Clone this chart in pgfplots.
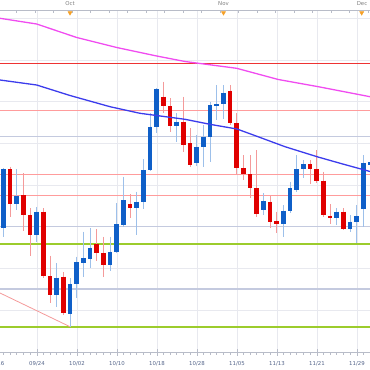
\documentclass[border=0pt]{standalone}
\usepackage{pgfplots}
\pgfplotsset{compat=1.18}
\usepackage{fontspec}
\setmainfont{DejaVu Sans}
\definecolor{cblue}{HTML}{0F5FC8}
\definecolor{cbluew}{HTML}{9DC0EA}
\definecolor{cred}{HTML}{E00000}
\definecolor{credw}{HTML}{F49A9A}
\definecolor{maA}{HTML}{F04CF0}
\definecolor{maB}{HTML}{3C3CEC}
\definecolor{lred}{HTML}{FF9C9C}
\definecolor{gblue}{HTML}{C4CADF}
\definecolor{lgreen}{HTML}{9CCC2C}
\definecolor{gridc}{HTML}{E8E9EF}
\definecolor{orng}{HTML}{F5A028}
\definecolor{labc}{HTML}{55658A}
\definecolor{axc}{HTML}{B8BCC8}
\definecolor{sred}{HTML}{EE3333}
\begin{document}
\begin{tikzpicture}
\begin{axis}[name=ax, scale only axis, width=370bp, height=370bp,
  xmin=0, xmax=370, ymin=0, ymax=370, y dir=reverse,
  axis lines=none, clip=true, unbounded coords=jump]
\coordinate (A) at (rel axis cs:0,0);
\coordinate (B) at (rel axis cs:1,1);
% faint gridlines
\addplot[gridc, line width=0.8bp] coordinates {
(0,18.3)(370,18.3)(nan,nan)(0,60)(370,60)(nan,nan)(0,101.7)(370,101.7)(nan,nan)
(0,143.3)(370,143.3)(nan,nan)(0,185)(370,185)(nan,nan)(0,268.3)(370,268.3)(nan,nan)
(0,310)(370,310)};
\addplot[gridc, line width=0.8bp] coordinates {
(37,10)(37,352)(nan,nan)(77,10)(77,352)(nan,nan)(117,10)(117,352)(nan,nan)
(157,10)(157,352)(nan,nan)(197,10)(197,352)(nan,nan)(237,10)(237,352)(nan,nan)
(277,10)(277,352)(nan,nan)(317,10)(317,352)(nan,nan)(357,10)(357,352)};
% support / resistance lines
\addplot[gblue, line width=1.2bp] coordinates {(0,136.7)(370,136.7)(nan,nan)(0,226.7)(370,226.7)(nan,nan)(0,289)(370,289)};
\addplot[lred, line width=1bp] coordinates {(0,110)(370,110)(nan,nan)(0,174)(370,174)(nan,nan)(0,195.7)(370,195.7)};
\addplot[sred, line width=1.6bp] coordinates {(0,63.6)(370,63.6)(nan,nan)(0,63.6)(370,63.6)};
\addplot[lgreen, line width=1.7bp] coordinates {(0,244.3)(370,244.3)(nan,nan)(0,326.7)(370,326.7)};
\addplot[credw, line width=0.8bp] coordinates {(0,293)(70,326.7)};
% axes
\addplot[axc, line width=0.8bp] coordinates {(0,10)(370,10)(nan,nan)(0,352)(370,352)};
\addplot[only marks, mark=|, mark size=1.6bp, mark options={axc, line width=0.7bp}] coordinates {
(16.7,11.6)(35.2,11.6)(53.7,11.6)(72.2,11.6)(90.7,11.6)(109.2,11.6)(127.7,11.6)(146.2,11.6)
(164.7,11.6)(183.2,11.6)(201.7,11.6)(220.2,11.6)(238.7,11.6)(257.2,11.6)(275.7,11.6)
(294.2,11.6)(312.7,11.6)(331.2,11.6)(349.7,11.6)(368.2,11.6)};
\addplot[only marks, mark=|, mark size=1.3bp, mark options={axc, line width=0.7bp}] coordinates {
(3.3,353.5)(10,353.5)(16.7,353.5)(23.3,353.5)(30,353.5)(43.3,353.5)(50,353.5)(56.7,353.5)
(63.3,353.5)(70,353.5)(83.3,353.5)(90,353.5)(96.7,353.5)(103.3,353.5)(110,353.5)
(123.3,353.5)(130,353.5)(136.7,353.5)(143.3,353.5)(150,353.5)(163.3,353.5)(170,353.5)
(176.7,353.5)(183.3,353.5)(190,353.5)(203.3,353.5)(210,353.5)(216.7,353.5)(223.3,353.5)
(230,353.5)(243.3,353.5)(250,353.5)(256.7,353.5)(263.3,353.5)(270,353.5)(283.3,353.5)
(290,353.5)(296.7,353.5)(303.3,353.5)(310,353.5)(323.3,353.5)(330,353.5)(336.7,353.5)
(343.3,353.5)(350,353.5)(363.3,353.5)(370,353.5)};
\addplot[only marks, mark=|, mark size=3.2bp, mark options={axc, line width=0.8bp}] coordinates {
(37,352.5)(77,352.5)(117,352.5)(157,352.5)(197,352.5)(237,352.5)(277,352.5)(317,352.5)(357,352.5)};
\addplot[only marks, mark=triangle*, mark size=2.4bp, mark options={rotate=180, fill=orng, draw=orng}] coordinates {(70,12.8)(223.5,12.8)(361.7,12.8)};
% wicks
\addplot[cbluew, line width=1bp] coordinates {
(3.33,168)(3.33,236.7)(nan,nan)(16.67,169.3)(16.67,210)(nan,nan)(36.67,207)(36.67,241.7)(nan,nan)
(56.67,263.3)(56.67,306.7)(nan,nan)(70,278.3)(70,326.7)(nan,nan)(76.67,256.7)(76.67,298)(nan,nan)
(83.33,231.7)(83.33,276.7)(nan,nan)(90,228.3)(90,268.3)(nan,nan)(110,236.7)(110,271)(nan,nan)
(116.67,203)(116.67,253.3)(nan,nan)(123.33,176.7)(123.33,226.7)(nan,nan)(136.67,191.7)(136.67,235)(nan,nan)
(143.33,159.3)(143.33,209)(nan,nan)(150,113.3)(150,170.7)(nan,nan)(156.67,88.3)(156.67,133.3)(nan,nan)
(176.67,113.3)(176.67,141.7)(nan,nan)(196.67,135)(196.67,166)(nan,nan)(203.33,125)(203.33,166.7)(nan,nan)
(210,101.7)(210,161.7)(nan,nan)(216.67,85)(216.67,120)(nan,nan)(223.33,85)(223.33,119.3)(nan,nan)
(263.33,193.3)(263.33,215)(nan,nan)(283.33,205)(283.33,236.7)(nan,nan)(290,181.7)(290,213.3)(nan,nan)
(296.67,155)(296.67,191.7)(nan,nan)(303.33,160)(303.33,178.3)(nan,nan)(336.67,208.3)(336.67,225)(nan,nan)
(350,215)(350,231.7)(nan,nan)(356.67,205)(356.67,243.3)(nan,nan)(363.33,155)(363.33,226.7)(nan,nan)
(370,158)(370,168)};
\addplot[credw, line width=1bp] coordinates {
(10,166.7)(10,216.7)(nan,nan)(23.33,173.3)(23.33,230.7)(nan,nan)(30,208.3)(30,255.7)(nan,nan)
(43.33,208.3)(43.33,278.3)(nan,nan)(50,255.7)(50,303.3)(nan,nan)(63.33,272.3)(63.33,315)(nan,nan)
(96.67,229)(96.67,261)(nan,nan)(103.33,236.7)(103.33,276.7)(nan,nan)(130,194.3)(130,218.3)(nan,nan)
(163.33,81.7)(163.33,113.3)(nan,nan)(170,98.3)(170,131.7)(nan,nan)(183.33,96.7)(183.33,151.7)(nan,nan)
(190,128.3)(190,167.3)(nan,nan)(230,85)(230,125)(nan,nan)(236.67,113.3)(236.67,174)(nan,nan)
(243.33,155)(243.33,180)(nan,nan)(250,155)(250,198)(nan,nan)(256.67,150)(256.67,217)(nan,nan)
(270,196)(270,227.7)(nan,nan)(276.67,211.7)(276.67,232.7)(nan,nan)(310,160)(310,184)(nan,nan)
(316.67,150)(316.67,183.3)(nan,nan)(323.33,171.7)(323.33,217.3)(nan,nan)(330,204)(330,224)(nan,nan)
(343.33,208.3)(343.33,230)};
% bodies
\addplot[cblue, line width=4.8bp] coordinates {
(3.33,169.3)(3.33,228.3)(nan,nan)(16.67,195.7)(16.67,204.3)(nan,nan)(36.67,211.7)(36.67,235)(nan,nan)
(56.67,277.7)(56.67,295)(nan,nan)(70,284.3)(70,314)(nan,nan)(76.67,262.3)(76.67,284.3)(nan,nan)
(83.33,258.3)(83.33,263.3)(nan,nan)(90,247.7)(90,259)(nan,nan)(110,252.3)(110,265)(nan,nan)
(116.67,224.3)(116.67,252.3)(nan,nan)(123.33,200)(123.33,225)(nan,nan)(136.67,201.7)(136.67,208.3)(nan,nan)
(143.33,170)(143.33,201.7)(nan,nan)(150,126.7)(150,170)(nan,nan)(156.67,89.3)(156.67,126.7)(nan,nan)
(176.67,121.7)(176.67,126)(nan,nan)(196.67,146.7)(196.67,162.7)(nan,nan)(203.33,136.7)(203.33,146.7)(nan,nan)
(210,105)(210,136.7)(nan,nan)(216.67,104)(216.67,105.5)(nan,nan)(223.33,93.3)(223.33,104)(nan,nan)
(263.33,201)(263.33,210)(nan,nan)(283.33,210.7)(283.33,224.3)(nan,nan)(290,188.3)(290,210.7)(nan,nan)
(296.67,169.3)(296.67,190)(nan,nan)(303.33,164)(303.33,169.3)(nan,nan)(336.67,211.7)(336.67,218.3)(nan,nan)
(350,221.7)(350,229.3)(nan,nan)(356.67,216)(356.67,222.3)(nan,nan)(363.33,163.3)(363.33,209.3)(nan,nan)
(370,162)(370,164.5)};
\addplot[cred, line width=4.8bp] coordinates {
(10,169.3)(10,204.3)(nan,nan)(23.33,195)(23.33,215)(nan,nan)(30,215)(30,235)(nan,nan)
(43.33,211.7)(43.33,276)(nan,nan)(50,276)(50,295)(nan,nan)(63.33,276.7)(63.33,313.3)(nan,nan)
(96.67,244.3)(96.67,253.3)(nan,nan)(103.33,253.3)(103.33,265)(nan,nan)(130,204.3)(130,208.3)(nan,nan)
(163.33,96.7)(163.33,106)(nan,nan)(170,106)(170,126)(nan,nan)(183.33,121.7)(183.33,145)(nan,nan)
(190,143.3)(190,165)(nan,nan)(230,90.7)(230,123.3)(nan,nan)(236.67,123.3)(236.67,168.3)(nan,nan)
(243.33,168.3)(243.33,174)(nan,nan)(250,174)(250,188)(nan,nan)(256.67,188.3)(256.67,214.3)(nan,nan)
(270,201.7)(270,222)(nan,nan)(276.67,221)(276.67,223.5)(nan,nan)(310,164)(310,169.3)(nan,nan)
(316.67,169.3)(316.67,180.7)(nan,nan)(323.33,180.7)(323.33,215)(nan,nan)(330,215.7)(330,217.7)(nan,nan)
(343.33,211.7)(343.33,229.3)};
% moving averages
\addplot[maA, line width=1.3bp] coordinates {
(0,18.3)(36.7,24)(76.7,37.5)(116.7,47.5)(156.7,56)(185,61.5)(236.7,68.3)(278.3,79.5)(318.3,86.7)(370,96.7)};
\addplot[maB, line width=1.3bp] coordinates {
(0,80)(36.7,85)(70,95.5)(110,106.7)(140,113.3)(185,119.3)(211,124.5)(237,129)
(258,136.7)(285,146.7)(318,157)(342,163.8)(370,171.5)};
% labels
\node[font=\fontsize{5.4bp}{6bp}\selectfont, text=labc] at (axis cs:-3.5,364) {09/16};
\node[font=\fontsize{5.4bp}{6bp}\selectfont, text=labc] at (axis cs:37,364) {09/24};
\node[font=\fontsize{5.4bp}{6bp}\selectfont, text=labc] at (axis cs:77,364) {10/02};
\node[font=\fontsize{5.4bp}{6bp}\selectfont, text=labc] at (axis cs:117,364) {10/10};
\node[font=\fontsize{5.4bp}{6bp}\selectfont, text=labc] at (axis cs:157,364) {10/18};
\node[font=\fontsize{5.4bp}{6bp}\selectfont, text=labc] at (axis cs:197,364) {10/28};
\node[font=\fontsize{5.4bp}{6bp}\selectfont, text=labc] at (axis cs:237,364) {11/05};
\node[font=\fontsize{5.4bp}{6bp}\selectfont, text=labc] at (axis cs:277,364) {11/13};
\node[font=\fontsize{5.4bp}{6bp}\selectfont, text=labc] at (axis cs:317,364) {11/21};
\node[font=\fontsize{5.4bp}{6bp}\selectfont, text=labc] at (axis cs:357,364) {11/29};
\node[font=\fontsize{5.4bp}{6bp}\selectfont, text=gray] at (axis cs:70,4) {Oct};
\node[font=\fontsize{5.4bp}{6bp}\selectfont, text=gray] at (axis cs:223.5,4) {Nov};
\node[font=\fontsize{5.4bp}{6bp}\selectfont, text=gray] at (axis cs:362,4) {Dec};
\end{axis}
\pgfresetboundingbox
\path[use as bounding box] (A) rectangle (B);
\end{tikzpicture}
\end{document}
